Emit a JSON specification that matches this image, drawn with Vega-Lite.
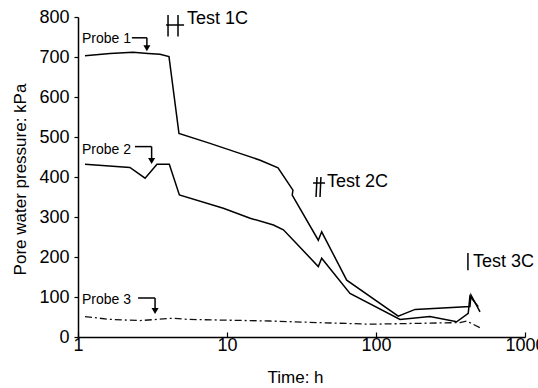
{
  "$schema": "https://vega.github.io/schema/vega-lite/v6.json",
  "width": 447,
  "height": 320,
  "autosize": "none",
  "padding": {"left": 78, "top": 17, "right": 13, "bottom": 51},
  "background": "white",
  "config": {
    "view": {"stroke": null},
    "font": "Liberation Sans",
    "axis": {
      "grid": false,
      "domainColor": "black",
      "domainWidth": 1.5,
      "tickColor": "black",
      "tickWidth": 1.2,
      "labelFont": "Liberation Sans",
      "labelFontSize": 18,
      "labelColor": "black",
      "labelOverlap": false,
      "labelFlush": false,
      "labelBound": false,
      "titleFont": "Liberation Sans",
      "titleFontSize": 17,
      "titleFontWeight": "normal",
      "titleColor": "black"
    }
  },
  "datasets": {
    "lines": [
      {"series": "Probe 1", "seq": 1, "t": 1.114, "p": 703},
      {"series": "Probe 1", "seq": 2, "t": 1.64, "p": 709},
      {"series": "Probe 1", "seq": 3, "t": 2.34, "p": 712},
      {"series": "Probe 1", "seq": 4, "t": 2.95, "p": 709},
      {"series": "Probe 1", "seq": 5, "t": 3.55, "p": 707},
      {"series": "Probe 1", "seq": 6, "t": 4.08, "p": 701},
      {"series": "Probe 1", "seq": 7, "t": 4.76, "p": 509},
      {"series": "Probe 1", "seq": 8, "t": 7.69, "p": 484},
      {"series": "Probe 1", "seq": 9, "t": 12.2, "p": 459},
      {"series": "Probe 1", "seq": 10, "t": 16.7, "p": 442},
      {"series": "Probe 1", "seq": 11, "t": 22.0, "p": 423},
      {"series": "Probe 1", "seq": 12, "t": 27.7, "p": 367},
      {"series": "Probe 1", "seq": 13, "t": 27.4, "p": 355},
      {"series": "Probe 1", "seq": 14, "t": 41.0, "p": 242},
      {"series": "Probe 1", "seq": 15, "t": 43.2, "p": 263},
      {"series": "Probe 1", "seq": 16, "t": 63.6, "p": 142},
      {"series": "Probe 1", "seq": 17, "t": 141, "p": 52},
      {"series": "Probe 1", "seq": 18, "t": 183, "p": 69},
      {"series": "Probe 1", "seq": 19, "t": 427, "p": 76},
      {"series": "Probe 1", "seq": 20, "t": 434, "p": 105},
      {"series": "Probe 1", "seq": 21, "t": 499, "p": 63},
      {"series": "Probe 2", "seq": 1, "t": 1.114, "p": 432},
      {"series": "Probe 2", "seq": 2, "t": 2.23, "p": 424},
      {"series": "Probe 2", "seq": 3, "t": 2.82, "p": 397},
      {"series": "Probe 2", "seq": 4, "t": 3.39, "p": 432},
      {"series": "Probe 2", "seq": 5, "t": 4.10, "p": 432},
      {"series": "Probe 2", "seq": 6, "t": 4.79, "p": 355},
      {"series": "Probe 2", "seq": 7, "t": 9.45, "p": 322},
      {"series": "Probe 2", "seq": 8, "t": 14.3, "p": 297},
      {"series": "Probe 2", "seq": 9, "t": 20.5, "p": 280},
      {"series": "Probe 2", "seq": 10, "t": 23.9, "p": 268},
      {"series": "Probe 2", "seq": 11, "t": 27.9, "p": 242},
      {"series": "Probe 2", "seq": 12, "t": 41.0, "p": 176},
      {"series": "Probe 2", "seq": 13, "t": 43.2, "p": 197},
      {"series": "Probe 2", "seq": 14, "t": 66.9, "p": 109},
      {"series": "Probe 2", "seq": 15, "t": 145, "p": 44},
      {"series": "Probe 2", "seq": 16, "t": 230, "p": 51},
      {"series": "Probe 2", "seq": 17, "t": 348, "p": 38},
      {"series": "Probe 2", "seq": 18, "t": 416, "p": 59},
      {"series": "Probe 2", "seq": 19, "t": 427, "p": 102},
      {"series": "Probe 2", "seq": 20, "t": 486, "p": 76},
      {"series": "Probe 3", "seq": 1, "t": 1.114, "p": 51},
      {"series": "Probe 3", "seq": 2, "t": 1.64, "p": 44},
      {"series": "Probe 3", "seq": 3, "t": 2.61, "p": 41},
      {"series": "Probe 3", "seq": 4, "t": 4.34, "p": 47},
      {"series": "Probe 3", "seq": 5, "t": 5.36, "p": 44},
      {"series": "Probe 3", "seq": 6, "t": 19.4, "p": 40},
      {"series": "Probe 3", "seq": 7, "t": 27.9, "p": 38},
      {"series": "Probe 3", "seq": 8, "t": 91.2, "p": 32},
      {"series": "Probe 3", "seq": 9, "t": 366, "p": 36},
      {"series": "Probe 3", "seq": 10, "t": 406, "p": 40},
      {"series": "Probe 3", "seq": 11, "t": 499, "p": 23}
    ],
    "notes": [
      {"label": "Probe 1", "kind": "probe", "t": 1.064, "p": 745},
      {"label": "Probe 2", "kind": "probe", "t": 1.064, "p": 467},
      {"label": "Probe 3", "kind": "probe", "t": 1.064, "p": 92},
      {"label": "Test 1C", "kind": "test", "t": 5.39, "p": 795},
      {"label": "Test 2C", "kind": "test", "t": 46.9, "p": 388},
      {"label": "Test 3C", "kind": "test", "t": 448, "p": 187}
    ],
    "strokes": [
      {"t": 2.30, "p": 748, "t2": 2.90, "p2": 748},
      {"t": 2.90, "p": 748, "t2": 2.90, "p2": 722},
      {"t": 2.41, "p": 476, "t2": 3.12, "p2": 476},
      {"t": 3.12, "p": 476, "t2": 3.12, "p2": 440},
      {"t": 2.53, "p": 97.5, "t2": 3.29, "p2": 97.5},
      {"t": 3.29, "p": 97.5, "t2": 3.29, "p2": 65},
      {"t": 4.02, "p": 805, "t2": 4.02, "p2": 751},
      {"t": 4.69, "p": 805, "t2": 4.69, "p2": 751},
      {"t": 3.90, "p": 780, "t2": 5.15, "p2": 780},
      {"t": 40.2, "p": 400, "t2": 39.6, "p2": 350},
      {"t": 42.7, "p": 400, "t2": 42.1, "p2": 350},
      {"t": 37.8, "p": 385, "t2": 45.5, "p2": 385},
      {"t": 414, "p": 210, "t2": 414, "p2": 167}
    ],
    "heads": [
      {"t": 2.90, "p": 722},
      {"t": 3.12, "p": 440},
      {"t": 3.29, "p": 65}
    ]
  },
  "encoding": {
    "x": {
      "field": "t", "type": "quantitative",
      "scale": {"type": "log", "domain": [1, 1000]},
      "axis": {
        "title": "Time: h",
        "values": [1, 10, 100, 1000],
        "tickCount": 10,
        "format": "d",
        "tickSize": -5,
        "labelPadding": 4,
        "titleX": 217,
        "titleY": 40,
        "titleAlign": "center",
        "titleBaseline": "middle"
      }
    },
    "y": {
      "field": "p", "type": "quantitative",
      "scale": {"domain": [0, 800], "nice": false},
      "axis": {
        "title": "Pore water pressure: kPa",
        "values": [0, 100, 200, 300, 400, 500, 600, 700, 800],
        "tickCount": 20,
        "labelOverlap": false,
        "tickSize": 4,
        "labelPadding": 5,
        "titleX": -58,
        "titleY": 162,
        "titleAlign": "center",
        "titleBaseline": "middle"
      }
    }
  },
  "layer": [
    {
      "data": {"name": "lines"},
      "transform": [{"filter": "datum.series !== 'Probe 3'"}],
      "mark": {"type": "line", "color": "black", "strokeWidth": 1.5},
      "encoding": {
        "detail": {"field": "series"},
        "order": {"field": "seq"}
      }
    },
    {
      "data": {"name": "lines"},
      "transform": [{"filter": "datum.series === 'Probe 3'"}],
      "mark": {"type": "line", "color": "#111", "strokeWidth": 1.3, "strokeDash": [7, 3, 2, 3]},
      "encoding": {
        "order": {"field": "seq"}
      }
    },
    {
      "data": {"name": "strokes"},
      "mark": {"type": "rule", "color": "black", "strokeWidth": 1.5},
      "encoding": {
        "x2": {"field": "t2"},
        "y2": {"field": "p2"}
      }
    },
    {
      "data": {"name": "heads"},
      "mark": {"type": "point", "shape": "triangle-down", "filled": true, "color": "black", "size": 50, "opacity": 1},
      "encoding": {}
    },
    {
      "data": {"name": "notes"},
      "transform": [{"filter": "datum.kind === 'probe'"}],
      "mark": {"type": "text", "align": "left", "baseline": "middle", "fontSize": 14, "font": "Liberation Sans", "color": "black"},
      "encoding": {
        "text": {"field": "label"}
      }
    },
    {
      "data": {"name": "notes"},
      "transform": [{"filter": "datum.kind === 'test'"}],
      "mark": {"type": "text", "align": "left", "baseline": "middle", "fontSize": 18, "font": "Liberation Sans", "color": "black"},
      "encoding": {
        "text": {"field": "label"}
      }
    }
  ]
}
